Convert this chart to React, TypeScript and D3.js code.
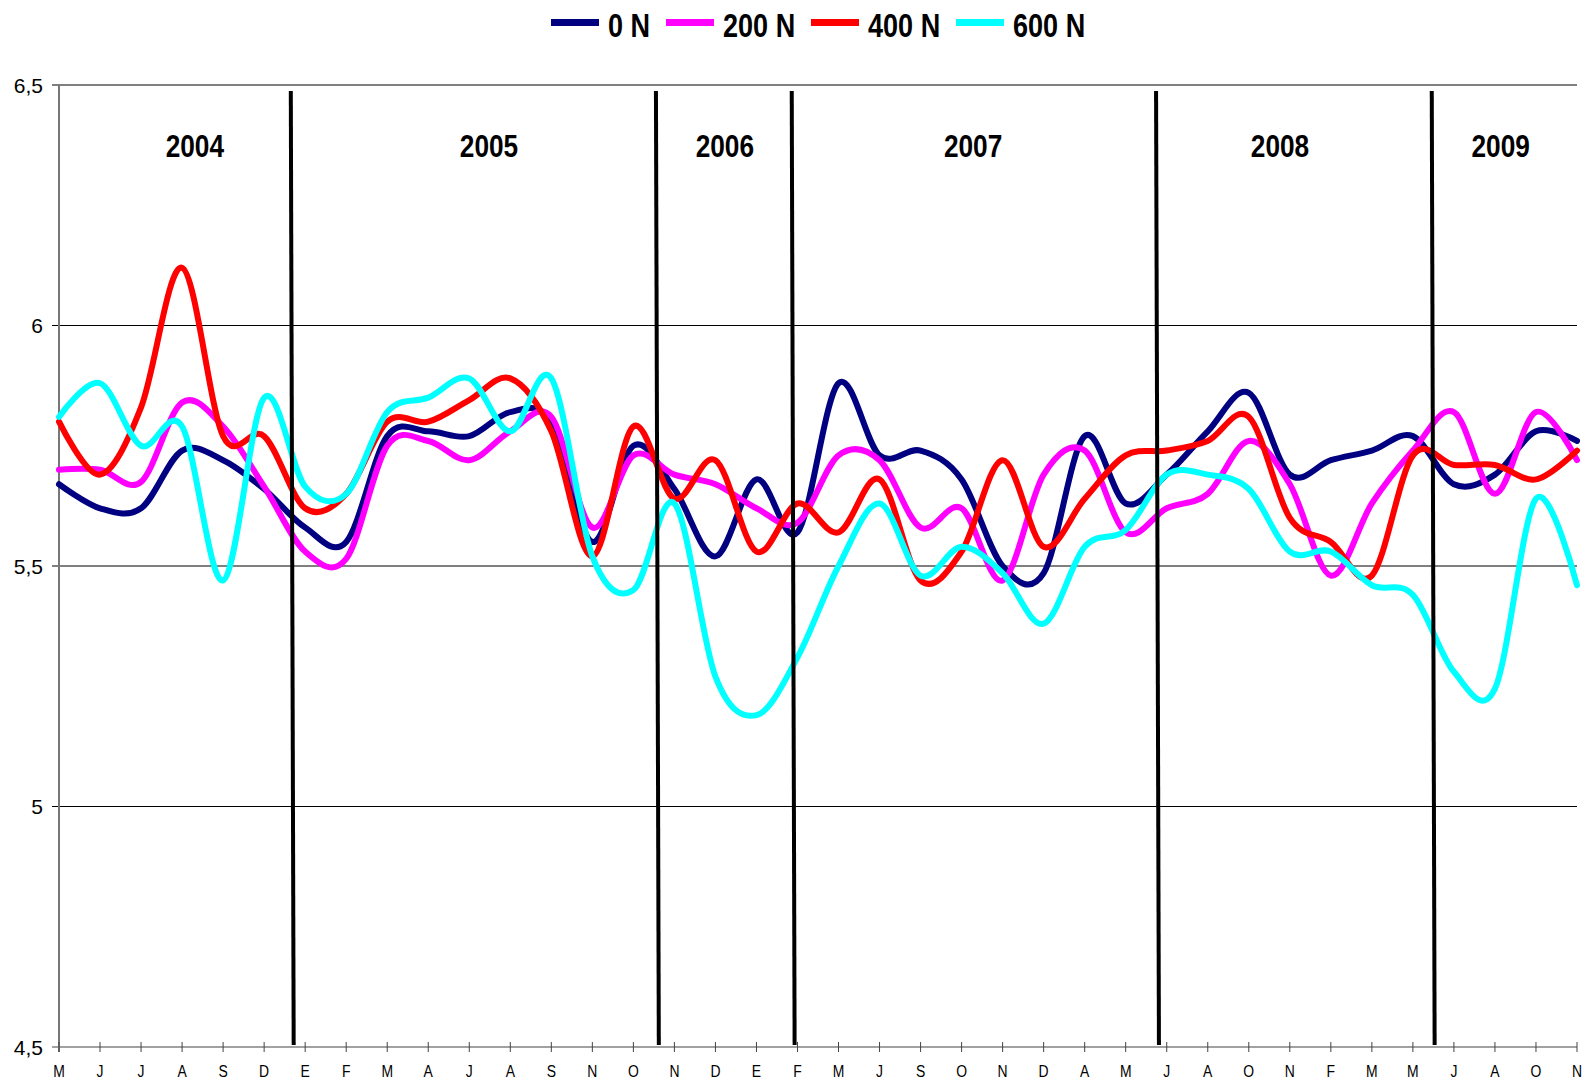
import React from 'react';
import * as d3 from 'd3';

// month initials under each sampling date (Spanish)
const months = [
  'M', 'J', 'J', 'A', 'S', 'D', 'E', 'F', 'M', 'A', 'J', 'A', 'S', 'N', 'O', 'N', 'D', 'E', 'F',
  'M', 'J', 'S', 'O', 'N', 'D', 'A', 'M', 'J', 'A', 'O', 'N', 'F', 'M', 'M', 'J', 'A', 'O', 'N',
];

const n0 = [
  5.67, 5.62, 5.62, 5.74, 5.72, 5.66, 5.58, 5.55, 5.77, 5.78, 5.77, 5.82, 5.8, 5.55, 5.75, 5.66, 5.52, 5.68, 5.57,
  5.88, 5.73, 5.74, 5.68, 5.5, 5.485, 5.77, 5.63, 5.69, 5.78, 5.86, 5.69, 5.72, 5.74, 5.77, 5.67, 5.69, 5.78, 5.76,
];
const n200 = [
  5.7, 5.7, 5.675, 5.84, 5.79, 5.665, 5.53, 5.515, 5.75, 5.76, 5.72, 5.78, 5.81, 5.58, 5.73, 5.69, 5.67, 5.62, 5.59,
  5.73, 5.72, 5.58, 5.62, 5.47, 5.69, 5.74, 5.57, 5.62, 5.65, 5.76, 5.67, 5.48, 5.63, 5.74, 5.82, 5.65, 5.82, 5.72,
];
const n400 = [
  5.8, 5.69, 5.83, 6.12, 5.77, 5.77, 5.62, 5.65, 5.8, 5.8, 5.845, 5.89, 5.78, 5.52, 5.79, 5.64, 5.72, 5.53, 5.63,
  5.57, 5.68, 5.47, 5.53, 5.72, 5.54, 5.64, 5.73, 5.74, 5.76, 5.81, 5.6, 5.55, 5.48, 5.73, 5.71, 5.71, 5.68, 5.74,
];
const n600 = [
  5.81, 5.88, 5.75, 5.79, 5.47, 5.85, 5.665, 5.65, 5.82, 5.85, 5.89, 5.78, 5.89, 5.52, 5.45, 5.63, 5.27, 5.19, 5.31,
  5.5, 5.63, 5.48, 5.54, 5.485, 5.38, 5.54, 5.575, 5.69, 5.69, 5.66, 5.53, 5.53, 5.46, 5.44, 5.28, 5.245, 5.64, 5.46,
];

const seriesNames = ['0 N', '200 N', '400 N', '600 N'];
const seriesColors = ['#000080', '#FF00FF', '#FF0000', '#00FFFF'];
const seriesValues = [n0, n200, n400, n600];

const yTicks = [4.5, 5, 5.5, 6, 6.5];

const years = ['2004', '2005', '2006', '2007', '2008', '2009'];
// where the year titles and the hand-drawn separators sit, in category units
const yearLabelAt = [3.31, 10.48, 16.23, 22.28, 29.76, 35.14];
const yearBreakAt = [5.65, 14.55, 17.86, 26.74, 33.46];

const W = 1583;
const H = 1080;
const font = "'Liberation Sans', Arial, sans-serif";

const comma = d3.formatLocale({ decimal: ',', thousands: '.', grouping: [3], currency: ['', ''] }).format('~g');

// Arial Narrow look-alike: squeeze Liberation Sans horizontally
const Narrow: React.FC<{
  x: number;
  y: number;
  size: number;
  bold?: boolean;
  anchor?: string;
  children: React.ReactNode;
}> = ({ x, y, size, bold, anchor = 'start', children }) => (
  <text
    transform={`translate(${x},${y}) scale(0.82,1)`}
    textAnchor={anchor}
    fontFamily={font}
    fontWeight={bold ? 'bold' : 'normal'}
    fontSize={size}
    fill="#000"
  >
    {children}
  </text>
);

const App: React.FC = () => {
  const x = d3.scaleLinear().domain([0, months.length - 1]).range([59, 1577]);
  const y = d3.scaleLinear().domain([4.5, 6.5]).range([1047, 85]);
  const line = d3
    .line<number>()
    .x((_, i) => x(i))
    .y((d) => y(d))
    .curve(d3.curveCardinal.tension(0));

  const legendX = [551, 666, 811, 956];

  return (
    <svg width={W} height={H} style={{ position: 'absolute', left: 0, top: 0, background: '#fff' }}>
      {/* legend */}
      {seriesNames.map((name, i) => (
        <g key={name}>
          <line
            x1={legendX[i]}
            x2={legendX[i] + 48}
            y1={22.5}
            y2={22.5}
            stroke={seriesColors[i]}
            strokeWidth={7}
          />
          <Narrow x={legendX[i] + 57} y={37} size={33} bold>
            {name}
          </Narrow>
        </g>
      ))}

      {/* grid + y axis labels */}
      {yTicks.map((t) => (
        <g key={t}>
          <line x1={52} x2={1577} y1={y(t)} y2={y(t)} stroke={t === 4.5 ? '#444' : '#000'} strokeWidth={1} />
          <text x={43} y={y(t) + 7.5} textAnchor="end" fontFamily={font} fontSize={21} fill="#000">
            {comma(t)}
          </text>
        </g>
      ))}
      <line x1={59} x2={59} y1={85} y2={1052} stroke="#777" strokeWidth={2} />

      {/* x ticks + labels */}
      {months.map((m, i) => (
        <g key={i}>
          <line x1={x(i)} x2={x(i)} y1={1042} y2={1052} stroke="#444" strokeWidth={1} />
          <Narrow x={x(i)} y={1077} size={17} anchor="middle">
            {m}
          </Narrow>
        </g>
      ))}

      {/* series */}
      {seriesValues.map((vals, i) => (
        <path
          key={seriesNames[i]}
          d={line(vals) || ''}
          fill="none"
          stroke={seriesColors[i]}
          strokeWidth={6}
          strokeLinejoin="round"
          strokeLinecap="round"
        />
      ))}

      {/* year separators */}
      {yearBreakAt.map((b, i) => (
        <line key={i} x1={x(b)} x2={x(b + 0.07)} y1={91} y2={1045} stroke="#000" strokeWidth={4} />
      ))}

      {/* year titles */}
      {years.map((yr, i) => (
        <Narrow key={yr} x={x(yearLabelAt[i])} y={157} size={32} bold anchor="middle">
          {yr}
        </Narrow>
      ))}
    </svg>
  );
};

export default App;
